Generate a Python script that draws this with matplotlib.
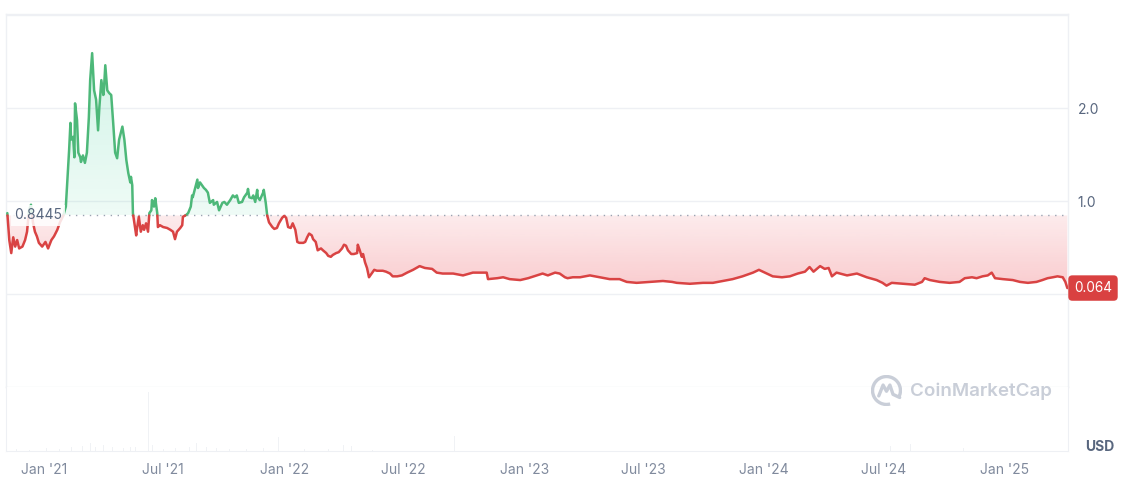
import numpy as np
import matplotlib
matplotlib.use("Agg")
import matplotlib.pyplot as plt
import matplotlib.dates as mdates
import matplotlib.colors as mcolors
import matplotlib.transforms as mtransforms
from matplotlib.path import Path
from matplotlib.patches import Arc
import datetime as dt

# ---------------- data ----------------
dates = [
    "2020-11-06", "2020-11-09", "2020-11-12", "2020-11-15", "2020-11-18", "2020-11-21", "2020-11-24", "2020-11-29",
    "2020-12-03", "2020-12-06", "2020-12-09", "2020-12-12", "2020-12-15", "2020-12-18", "2020-12-21", "2020-12-24",
    "2020-12-29", "2021-01-03", "2021-01-07", "2021-01-12", "2021-01-16", "2021-01-21", "2021-01-25", "2021-01-30",
    "2021-02-03", "2021-02-05", "2021-02-08", "2021-02-10", "2021-02-11", "2021-02-14", "2021-02-16", "2021-02-17",
    "2021-02-20", "2021-02-22", "2021-02-25", "2021-02-26", "2021-03-01", "2021-03-04", "2021-03-07", "2021-03-10",
    "2021-03-12", "2021-03-15", "2021-03-18", "2021-03-21", "2021-03-24", "2021-03-26", "2021-03-29", "2021-04-01",
    "2021-04-02", "2021-04-04", "2021-04-07", "2021-04-10", "2021-04-13", "2021-04-16", "2021-04-19", "2021-04-22",
    "2021-04-25", "2021-04-30", "2021-05-03", "2021-05-06", "2021-05-09", "2021-05-12", "2021-05-13", "2021-05-15",
    "2021-05-16", "2021-05-21", "2021-05-22", "2021-05-25", "2021-05-28", "2021-05-31", "2021-06-02", "2021-06-05",
    "2021-06-08", "2021-06-10", "2021-06-13", "2021-06-14", "2021-06-17", "2021-06-19", "2021-06-22", "2021-06-23",
    "2021-06-26", "2021-07-01", "2021-07-07", "2021-07-12", "2021-07-16", "2021-07-19", "2021-07-22", "2021-07-27",
    "2021-07-30", "2021-07-31", "2021-08-05", "2021-08-08", "2021-08-12", "2021-08-14", "2021-08-15", "2021-08-19",
    "2021-08-22", "2021-08-23", "2021-08-26", "2021-08-29", "2021-09-01", "2021-09-04", "2021-09-07", "2021-09-10",
    "2021-09-15", "2021-09-16", "2021-09-21", "2021-09-24", "2021-09-29", "2021-10-02", "2021-10-06", "2021-10-11",
    "2021-10-15", "2021-10-18", "2021-10-21", "2021-10-24", "2021-10-29", "2021-11-01", "2021-11-06", "2021-11-07",
    "2021-11-09", "2021-11-13", "2021-11-15", "2021-11-18", "2021-11-21", "2021-11-22", "2021-11-25", "2021-11-30",
    "2021-12-01", "2021-12-04", "2021-12-06", "2021-12-09", "2021-12-14", "2021-12-17", "2021-12-21", "2021-12-24",
    "2021-12-29", "2022-01-01", "2022-01-04", "2022-01-07", "2022-01-11", "2022-01-14", "2022-01-18", "2022-01-21",
    "2022-01-24", "2022-01-30", "2022-02-02", "2022-02-05", "2022-02-08", "2022-02-12", "2022-02-14", "2022-02-18",
    "2022-02-21", "2022-02-26", "2022-03-01", "2022-03-06", "2022-03-09", "2022-03-13", "2022-03-16", "2022-03-21",
    "2022-03-25", "2022-03-30", "2022-04-02", "2022-04-05", "2022-04-08", "2022-04-13", "2022-04-17", "2022-04-22",
    "2022-04-23", "2022-04-26", "2022-04-29", "2022-05-01", "2022-05-04", "2022-05-07", "2022-05-10", "2022-05-15",
    "2022-05-18", "2022-05-22", "2022-05-27", "2022-05-31", "2022-06-05", "2022-06-11", "2022-06-15", "2022-06-22",
    "2022-06-29", "2022-07-07", "2022-07-16", "2022-07-26", "2022-08-03", "2022-08-14", "2022-08-21", "2022-08-30",
    "2022-09-15", "2022-09-30", "2022-10-15", "2022-10-26", "2022-11-05", "2022-11-07", "2022-11-21", "2022-11-30",
    "2022-12-10", "2022-12-26", "2023-01-07", "2023-01-20", "2023-01-29", "2023-02-06", "2023-02-17", "2023-02-24",
    "2023-03-04", "2023-03-08", "2023-03-16", "2023-03-27", "2023-04-11", "2023-04-26", "2023-05-11", "2023-05-26",
    "2023-06-06", "2023-06-21", "2023-07-11", "2023-07-31", "2023-08-14", "2023-08-21", "2023-09-10", "2023-09-30",
    "2023-10-15", "2023-10-30", "2023-11-14", "2023-11-29", "2023-12-15", "2023-12-24", "2024-01-02", "2024-01-14",
    "2024-01-28", "2024-02-09", "2024-02-21", "2024-03-03", "2024-03-10", "2024-03-16", "2024-03-26", "2024-04-02",
    "2024-04-08", "2024-04-13", "2024-04-20", "2024-05-06", "2024-05-21", "2024-06-05", "2024-06-20", "2024-06-29",
    "2024-07-05", "2024-07-13", "2024-07-30", "2024-08-17", "2024-08-28", "2024-09-01", "2024-09-09", "2024-09-24",
    "2024-10-09", "2024-10-24", "2024-11-01", "2024-11-12", "2024-11-19", "2024-11-28", "2024-12-06", "2024-12-12",
    "2024-12-17", "2024-12-29", "2025-01-13", "2025-01-24", "2025-02-05", "2025-02-18", "2025-02-27", "2025-03-07",
    "2025-03-15", "2025-03-22", "2025-03-30", "2025-04-03", "2025-04-06",
]
prices = [
    0.87, 0.58, 0.44, 0.61, 0.51, 0.58, 0.49, 0.51,
    0.58, 0.67, 0.90, 0.96, 0.77, 0.67, 0.62, 0.55,
    0.51, 0.56, 0.49, 0.58, 0.62, 0.69, 0.77, 0.84,
    0.94, 1.19, 1.55, 1.84, 1.66, 1.69, 1.47, 2.05,
    1.87, 1.52, 1.47, 1.42, 1.49, 1.41, 1.52, 1.90,
    2.30, 2.59, 2.19, 2.09, 1.76, 2.01, 2.30, 2.14,
    2.21, 2.46, 2.19, 2.16, 2.14, 1.84, 1.52, 1.46,
    1.66, 1.80, 1.66, 1.44, 1.30, 1.20, 1.26, 1.17,
    0.87, 0.63, 0.69, 0.83, 0.67, 0.74, 0.69, 0.76,
    0.67, 0.87, 0.90, 1.01, 0.94, 1.03, 0.87, 0.72,
    0.74, 0.72, 0.71, 0.69, 0.67, 0.59, 0.67, 0.71,
    0.74, 0.83, 0.85, 0.87, 0.94, 1.06, 1.04, 1.15,
    1.23, 1.14, 1.20, 1.17, 1.14, 1.12, 1.09, 0.98,
    1.01, 0.96, 0.99, 0.90, 0.98, 0.99, 0.96, 1.01,
    1.06, 1.04, 1.06, 0.98, 0.99, 1.04, 1.09, 1.13,
    1.04, 1.03, 1.06, 0.99, 1.12, 1.04, 1.01, 1.09,
    1.12, 0.98, 0.85, 0.77, 0.72, 0.70, 0.71, 0.76,
    0.82, 0.84, 0.82, 0.72, 0.71, 0.76, 0.69, 0.56,
    0.55, 0.55, 0.56, 0.61, 0.65, 0.63, 0.59, 0.56,
    0.47, 0.49, 0.47, 0.44, 0.41, 0.40, 0.42, 0.44,
    0.45, 0.49, 0.53, 0.52, 0.47, 0.43, 0.43, 0.44,
    0.53, 0.47, 0.40, 0.43, 0.34, 0.28, 0.18, 0.23,
    0.26, 0.25, 0.25, 0.25, 0.24, 0.22, 0.19, 0.19,
    0.20, 0.23, 0.26, 0.30, 0.28, 0.27, 0.23, 0.22,
    0.22, 0.20, 0.23, 0.23, 0.23, 0.16, 0.17, 0.18,
    0.16, 0.15, 0.17, 0.20, 0.22, 0.20, 0.23, 0.22,
    0.18, 0.17, 0.18, 0.18, 0.20, 0.18, 0.16, 0.16,
    0.13, 0.12, 0.13, 0.14, 0.13, 0.12, 0.11, 0.12,
    0.12, 0.14, 0.16, 0.19, 0.23, 0.26, 0.23, 0.19,
    0.18, 0.19, 0.22, 0.24, 0.29, 0.24, 0.30, 0.27,
    0.28, 0.19, 0.23, 0.20, 0.22, 0.18, 0.15, 0.12,
    0.09, 0.12, 0.11, 0.10, 0.13, 0.17, 0.15, 0.13,
    0.12, 0.13, 0.17, 0.18, 0.17, 0.19, 0.20, 0.23,
    0.17, 0.16, 0.15, 0.13, 0.12, 0.13, 0.15, 0.17,
    0.18, 0.19, 0.18, 0.13, 0.064,
]
baseline = 0.8445
last_price_label = "0.064"
baseline_label = "0.8445"

vol_dates = [
    "2020-11-20", "2020-12-10", "2021-01-05", "2021-01-25", "2021-02-12", "2021-02-28", "2021-03-12",
    "2021-03-20", "2021-04-02", "2021-04-15", "2021-05-01", "2021-05-12", "2021-05-20", "2021-06-08",
    "2021-06-15", "2021-07-01", "2021-07-20", "2021-08-10", "2021-08-20", "2021-09-05", "2021-09-20",
    "2021-10-10", "2021-11-05", "2021-12-01", "2021-12-24", "2022-02-01", "2022-03-10", "2022-04-01",
    "2022-04-14", "2022-05-15", "2022-09-17", "2024-07-11", "2024-08-10", "2024-10-30",
]
vol_values = [3, 2, 4, 3, 6, 8, 12, 7, 9, 6, 5, 7, 6, 92, 10, 3, 4, 7, 12, 6, 4, 3, 3, 4, 22, 3, 3, 10, 8, 2, 24, 8, 11, 4]

tick_dates = ["2021-01-01", "2021-07-01", "2022-01-01", "2022-07-01", "2023-01-01",
              "2023-07-01", "2024-01-01", "2024-07-01", "2025-01-01"]
tick_labels = ["Jan '21", "Jul '21", "Jan '22", "Jul '22", "Jan '23",
               "Jul '23", "Jan '24", "Jul '24", "Jan '25"]
y_ticks = [1.0, 2.0]
y_ticklabels = ["1.0", "2.0"]
grid_levels = [0.0, 1.0, 2.0, 3.0]

# ---------------- style ----------------
plt.rcParams['font.family'] = ['Inter', 'DejaVu Sans']
GREEN = '#4db879'
RED = '#d94343'
GRID = '#eef0f4'
TXT = '#58667e'
XTXT = '#808a9d'

W, H = 1140, 496
fig = plt.figure(figsize=(W / 100, H / 100), dpi=100)
fig.patch.set_facecolor('white')

L, R = 6, 1068
ax = fig.add_axes([L / W, 1 - 387 / H, (R - L) / W, (387 - 14) / H])
axv = fig.add_axes([L / W, 1 - 451 / H, (R - L) / W, (451 - 387) / H])

def tonum(ds):
    return mdates.date2num([dt.datetime.strptime(d, "%Y-%m-%d") for d in ds])

x = tonum(dates)
y = np.array(prices, dtype=float)

# insert baseline crossings so that the two colours meet exactly
xs, ys = [x[0]], [y[0]]
for i in range(1, len(x)):
    if (y[i - 1] - baseline) * (y[i] - baseline) < 0:
        t = (baseline - y[i - 1]) / (y[i] - y[i - 1])
        xs.append(x[i - 1] + t * (x[i] - x[i - 1]))
        ys.append(baseline)
    xs.append(x[i])
    ys.append(y[i])
xs = np.array(xs)
ys = np.array(ys)

up = np.where(ys >= baseline, ys, np.nan)
dn = np.where(ys <= baseline, ys, np.nan)


def grad_fill(above, color, a_near, a_far, y_far):
    where = ys >= baseline if above else ys <= baseline
    poly = ax.fill_between(xs, baseline, ys, where=where, facecolor='none', edgecolor='none')
    comp = Path.make_compound_path(*poly.get_paths())
    n = 256
    rgb = mcolors.to_rgb(color)
    img = np.zeros((n, 1, 4))
    img[..., :3] = rgb
    if above:
        lo, hi = baseline, y_far
        img[:, 0, 3] = np.linspace(a_near, a_far, n)
    else:
        lo, hi = y_far, baseline
        img[:, 0, 3] = np.linspace(a_far, a_near, n)
    im = ax.imshow(img, extent=[xs.min(), xs.max(), lo, hi], origin='lower',
                   aspect='auto', zorder=1, interpolation='bilinear')
    im.set_clip_path(comp, transform=ax.transData)


grad_fill(True, '#16c784', 0.07, 0.20, 2.6)
grad_fill(False, '#ea3943', 0.10, 0.26, 0.06)

for g in grid_levels:
    ax.axhline(g, color=GRID, lw=1, zorder=0.5)
ax.axhline(baseline, color='#9aa3b2', lw=1.0, linestyle=(0, (1, 4)), zorder=2)

ax.plot(xs, up, color=GREEN, lw=1.8, zorder=3, solid_capstyle='round', solid_joinstyle='round')
ax.plot(xs, dn, color=RED, lw=1.8, zorder=3, solid_capstyle='round', solid_joinstyle='round')

xmin = mdates.date2num(dt.datetime(2020, 11, 4))
xmax = mdates.date2num(dt.datetime(2025, 4, 7))
ax.set_xlim(xmin, xmax)
ax.set_ylim(-1.0, 3.011)

for s in ['top', 'left', 'right', 'bottom']:
    ax.spines[s].set_color(GRID)
    ax.spines[s].set_linewidth(1)
ax.set_xticks([])
ax.yaxis.tick_right()
ax.set_yticks(y_ticks)
ax.set_yticklabels(y_ticklabels)
ax.tick_params(axis='y', length=0, pad=7, labelcolor=TXT, labelsize=10)

# baseline label
ax.text(8 / (R - L), baseline, baseline_label,
        transform=mtransforms.blended_transform_factory(ax.transAxes, ax.transData),
        ha='left', va='center', fontsize=10, color=TXT, zorder=5,
        bbox=dict(boxstyle='square,pad=0.25', fc='white', ec='none', alpha=0.85))

# last price label
ax.text(1.0 + 6 / (R - L), y[-1], last_price_label,
        transform=mtransforms.blended_transform_factory(ax.transAxes, ax.transData),
        ha='left', va='center', fontsize=9.8, color='white', zorder=6, clip_on=False,
        bbox=dict(boxstyle='round,pad=0.42,rounding_size=0.3', fc='#d94141', ec='none'))

# volume
vx = tonum(vol_dates)
axv.bar(vx, vol_values, width=1.5, color='#f0f2f5', zorder=1)
axv.set_xlim(xmin, xmax)
axv.set_ylim(0, 100)
axv.set_yticks([])
axv.spines['top'].set_visible(False)
for s in ['left', 'right', 'bottom']:
    axv.spines[s].set_color(GRID)
axv.set_xticks(tonum(tick_dates))
axv.set_xticklabels(tick_labels)
axv.tick_params(axis='x', length=0, pad=9, labelcolor=XTXT, labelsize=10)

fig.text(1100 / W, 1 - 447 / H, 'USD', ha='center', va='center', fontsize=10,
         fontweight='bold', color=TXT)

# watermark
fig.text(910 / W, 1 - 391 / H, 'CoinMarketCap', ha='left', va='center', fontsize=13.5,
         fontweight='semibold', color='#c9ced8', zorder=10)
axl = fig.add_axes([871 / W, 1 - 406 / H, 31 / W, 31 / H])
axl.set_xlim(-1, 1)
axl.set_ylim(-1, 1)
axl.axis('off')
axl.patch.set_alpha(0)
axl.add_patch(Arc((0, 0), 1.8, 1.8, theta1=-30, theta2=285, color='#c9ced8', lw=2.4))
axl.plot([-0.5, -0.22, 0.0, 0.22, 0.42, 0.85], [-0.35, 0.35, -0.05, 0.35, -0.25, -0.45],
         color='#c9ced8', lw=2.4, solid_joinstyle='round', solid_capstyle='round')

fig.savefig('out.png', dpi=100, facecolor='white')
